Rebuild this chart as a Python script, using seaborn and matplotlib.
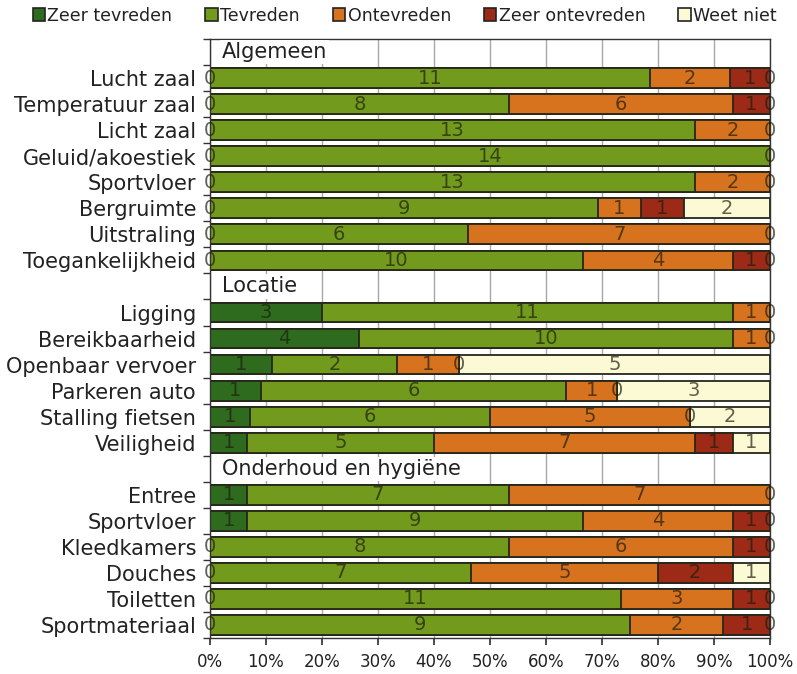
import numpy as np
import pandas as pd
import matplotlib
matplotlib.use('Agg')
import matplotlib.pyplot as plt
import seaborn as sns
from matplotlib.patches import Patch
from matplotlib.ticker import PercentFormatter

sns.set_theme(style='white')
plt.rcParams['font.family'] = ['DejaVu Sans']

# groups and items (top to bottom)
groups = ['Algemeen', 'Locatie', 'Onderhoud en hygiëne']
algemeen = ['Lucht zaal', 'Temperatuur zaal', 'Licht zaal', 'Geluid/akoestiek',
            'Sportvloer', 'Bergruimte', 'Uitstraling', 'Toegankelijkheid']
locatie = ['Ligging', 'Bereikbaarheid', 'Openbaar vervoer', 'Parkeren auto',
           'Stalling fietsen', 'Veiligheid']
onderhoud = ['Entree', 'Sportvloer', 'Kleedkamers', 'Douches', 'Toiletten',
             'Sportmateriaal']

categories = ['Zeer tevreden', 'Tevreden', 'Ontevreden', 'Zeer ontevreden', 'Weet niet']
colors = ['#2e6b1f', '#729b1d', '#d7731e', '#9c2a16', '#fcfad4']

# counts per item, same order as the items above
zeer_tevreden = [0, 0, 0, 0, 0, 0, 0, 0, 3, 4, 1, 1, 1, 1, 1, 1, 0, 0, 0, 0]
tevreden = [11, 8, 13, 14, 13, 9, 6, 10, 11, 10, 2, 6, 6, 5, 7, 9, 8, 7, 11, 9]
ontevreden = [2, 6, 2, 0, 2, 1, 7, 4, 1, 1, 1, 1, 5, 7, 7, 4, 6, 5, 3, 2]
zeer_ontevreden = [1, 1, 0, 0, 0, 1, 0, 1, 0, 0, 0, 0, 0, 1, 0, 1, 1, 2, 1, 1]
weet_niet = [0, 0, 0, 0, 0, 2, 0, 0, 0, 0, 5, 3, 2, 1, 0, 0, 0, 1, 0, 0]

# build row keys: one header row per group, then its items
keys, labels, header_pos = [], [], []
for g, its in zip(groups, [algemeen, locatie, onderhoud]):
    header_pos.append(len(keys))
    keys.append('h%d' % len(keys))
    labels.append('')
    for it in its:
        keys.append('r%d' % len(keys))
        labels.append(it)
item_keys = [k for k in keys if k.startswith('r')]

df = pd.DataFrame({'key': item_keys,
                   'Zeer tevreden': zeer_tevreden,
                   'Tevreden': tevreden,
                   'Ontevreden': ontevreden,
                   'Zeer ontevreden': zeer_ontevreden,
                   'Weet niet': weet_niet})
counts = df[categories]
frac = counts.div(counts.sum(axis=1), axis=0)
cum = frac.cumsum(axis=1)
left = cum - frac

fig, ax = plt.subplots(figsize=(7.97, 6.74), dpi=100)
fig.subplots_adjust(left=0.2635, right=0.966, top=0.942, bottom=0.0534)

# stacked bars: draw cumulative totals from the back to the front
for cat, col in reversed(list(zip(categories, colors))):
    sns.barplot(x=cum[cat], y=df['key'], order=keys, orient='h', color=col,
                saturation=1, width=0.76, edgecolor='#26261a', linewidth=1.3,
                errorbar=None, ax=ax)

# value labels in the middle of each segment (zeros too, one per spot)
for i, key in enumerate(item_keys):
    pos = keys.index(key)
    done = set()
    for cat in categories:
        xc = round(left.loc[i, cat] + frac.loc[i, cat] / 2, 6)
        if xc in done:
            continue
        done.add(xc)
        ax.text(xc, pos, str(counts.loc[i, cat]), ha='center', va='center',
                fontsize=14, color='#1e1e10', alpha=0.7, zorder=5)

# section headers
for g, p in zip(groups, header_pos):
    ax.text(0.021, p, g, ha='left', va='center', fontsize=15, color='#222222',
            bbox=dict(facecolor='white', edgecolor='none', pad=1.5), zorder=4)

ax.set_xlim(0, 1)
ax.set_xticks(np.arange(0, 1.01, 0.1))
ax.xaxis.set_major_formatter(PercentFormatter(1.0, decimals=0))
ax.set_yticks(range(len(keys)), labels=labels)
ax.set_yticks(np.arange(-0.5, len(keys), 1), minor=True)
ax.set_ylim(len(keys) - 0.5, -0.5)
ax.set_xlabel('')
ax.set_ylabel('')

ax.set_axisbelow(True)
ax.grid(axis='x', color='#a8a8a8', linewidth=1)
ax.grid(axis='y', visible=False)
for s in ax.spines.values():
    s.set_visible(True)
    s.set_color('#333333')
    s.set_linewidth(1)

ax.tick_params(axis='x', bottom=True, length=5, direction='out', color='#333333',
               labelsize=12, pad=6, labelcolor='#222222')
ax.tick_params(axis='y', which='major', left=True, length=0, labelsize=15,
               pad=10, labelcolor='#222222')
ax.tick_params(axis='y', which='minor', left=True, length=5, direction='out',
               color='#333333')

handles = [Patch(facecolor=c, edgecolor='#222222', linewidth=1.2) for c in colors]
fig.legend(handles, categories, loc='center left', bbox_to_anchor=(0.041, 0.977),
           ncol=5, frameon=False, fontsize=12.5, handlelength=0.7, handleheight=0.7,
           handletextpad=0.15, columnspacing=1.9, borderpad=0, borderaxespad=0,
           labelcolor='#222222')

fig.savefig('out.png', dpi=100)
